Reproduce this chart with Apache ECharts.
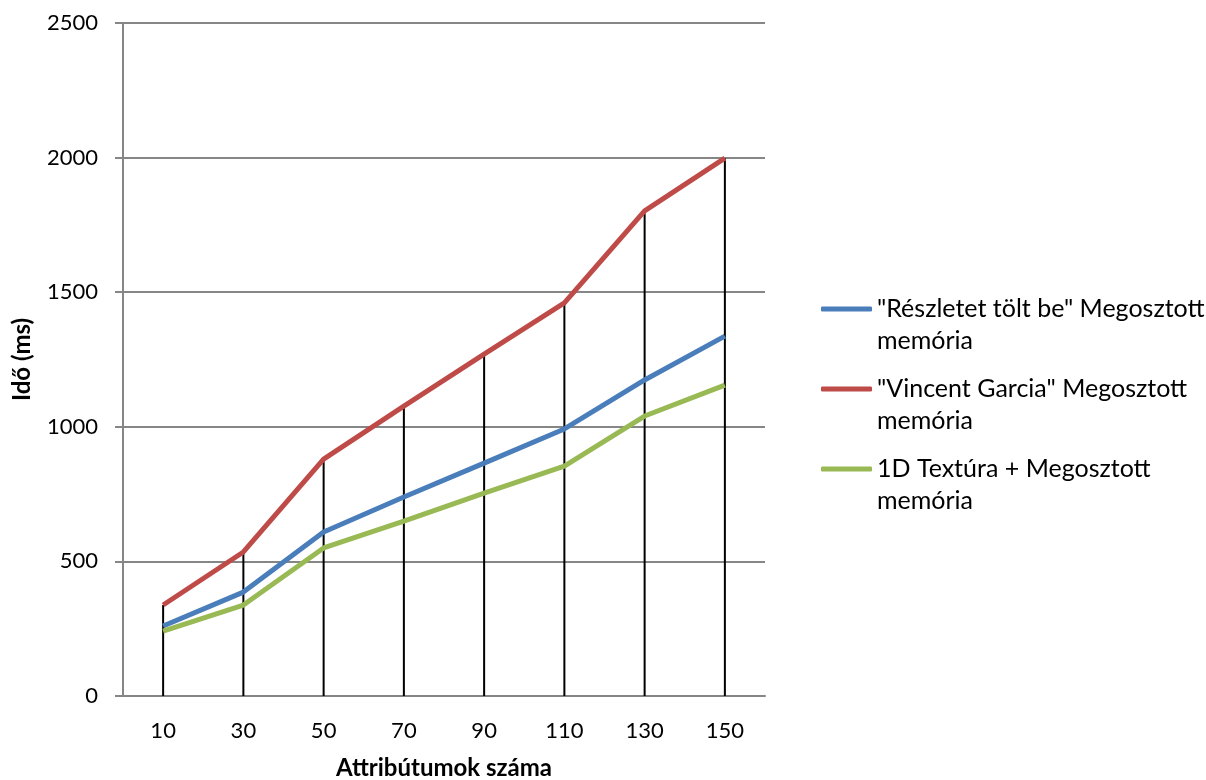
<!DOCTYPE html>
<html>
<head>
<meta charset="utf-8">
<script src="https://cdn.jsdelivr.net/npm/echarts@6/dist/echarts.min.js"></script>
<style>
  html, body { margin: 0; padding: 0; background: #fff; }
  #chart { width: 1206px; height: 780px; }
</style>
</head>
<body>
<div id="chart"></div>
<script>
var categories = ['10', '30', '50', '70', '90', '110', '130', '150'];
var seriesNames = ['"Részletet tölt be" Megosztott memória', '"Vincent Garcia" Megosztott memória', '1D Textúra + Megosztott memória'];
var legendLines = [['"Részletet tölt be" Megosztott', 'memória'], ['"Vincent Garcia" Megosztott', 'memória'], ['1D Textúra + Megosztott', 'memória']];
var reszletet = [260, 386, 609, 739, 865, 992, 1174, 1337];
var vincent = [338, 535, 880, 1077, 1270, 1460, 1802, 1998];
var textura = [241, 338, 550, 650, 754, 854, 1040, 1155];
var colors = ['#4A7EBB', '#BE4B48', '#98B954'];

var font = 'Lato';
var chart = echarts.init(document.getElementById('chart'));

function lineSeries(name, data, color) {
  return {
    name: name,
    type: 'line',
    data: data,
    symbol: 'none',
    z: 3,
    lineStyle: { color: color, width: 5 },
    itemStyle: { color: color }
  };
}

var option = {
  backgroundColor: '#ffffff',
  animation: false,
  textStyle: { fontFamily: font },
  grid: { left: 123, right: 441, top: 23, bottom: 84, outerBoundsMode: 'none' },
  legend: {
    orient: 'vertical',
    left: 816,
    top: 256,
    itemWidth: 51,
    itemHeight: 5,
    itemGap: -16,
    icon: 'roundRect',
    data: seriesNames,
    formatter: function (name) {
      // blank first line keeps the icon level with the first text line
      return '\n' + legendLines[seriesNames.indexOf(name)].join('\n');
    },
    textStyle: { fontFamily: font, fontSize: 25, color: '#000', lineHeight: 32 }
  },
  xAxis: {
    type: 'category',
    data: categories,
    boundaryGap: true,
    name: 'Attribútumok száma',
    nameLocation: 'middle',
    nameGap: 60,
    nameTextStyle: { fontFamily: font, fontSize: 24, fontWeight: 'bold', color: '#000' },
    axisLine: { lineStyle: { color: '#868686', width: 2 } },
    axisTick: { show: false },
    axisLabel: { fontFamily: font, fontSize: 22, color: '#000', margin: 24 }
  },
  yAxis: {
    type: 'value',
    min: 0,
    max: 2500,
    interval: 500,
    name: 'Idő (ms)',
    nameLocation: 'middle',
    nameGap: 89,
    nameRotate: 90,
    nameTextStyle: { fontFamily: font, fontSize: 24, fontWeight: 'bold', color: '#000' },
    axisLine: { show: true, lineStyle: { color: '#868686', width: 2 } },
    axisTick: { show: true, length: 8, lineStyle: { color: '#868686', width: 2 } },
    axisLabel: {
      fontFamily: font, fontSize: 22, color: '#000', margin: 25,
      formatter: function (v) { return String(v); }
    },
    splitLine: { lineStyle: { color: '#868686', width: 2 } }
  },
  series: [
    {
      // black drop lines from the top series down to the axis
      name: 'drop',
      type: 'bar',
      data: vincent,
      barWidth: 2,
      z: 1,
      itemStyle: { color: '#000' },
      silent: true
    },
    lineSeries(seriesNames[0], reszletet, colors[0]),
    lineSeries(seriesNames[1], vincent, colors[1]),
    lineSeries(seriesNames[2], textura, colors[2])
  ]
};

chart.setOption(option);
</script>
</body>
</html>
